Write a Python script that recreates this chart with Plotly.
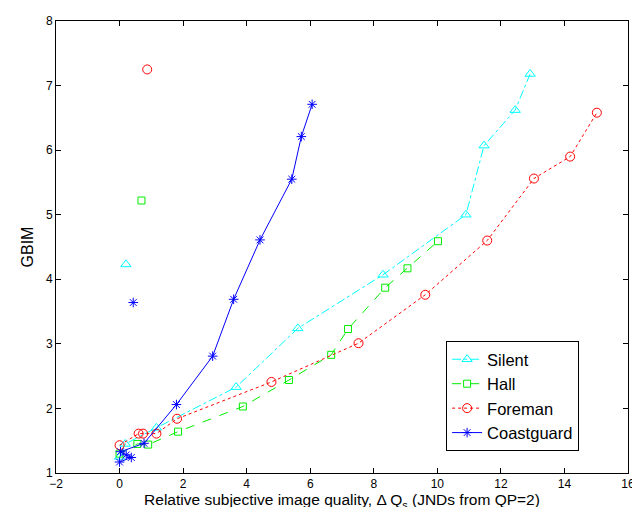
import plotly.graph_objects as go

# Data
silent_x = [0.0, 0.18, 1.16, 3.67, 5.61, 8.29, 10.9, 11.47, 12.45, 12.92]
silent_y = [1.25, 1.45, 1.70, 2.33, 3.24, 4.07, 5.0, 6.07, 6.62, 7.18]
silent_out_x = [0.2]
silent_out_y = [4.23]

hall_x = [0.0, 0.56, 0.9, 1.84, 3.88, 5.33, 6.66, 7.19, 8.36, 9.06, 10.02]
hall_y = [1.3, 1.45, 1.44, 1.64, 2.03, 2.44, 2.83, 3.23, 3.87, 4.17, 4.59]
hall_out_x = [0.69]
hall_out_y = [5.22]

foreman_x = [0.0, 0.6, 0.74, 1.16, 1.81, 4.78, 7.52, 9.62, 11.57, 13.04, 14.18, 15.02]
foreman_y = [1.43, 1.61, 1.61, 1.61, 1.84, 2.41, 3.01, 3.76, 4.6, 5.56, 5.9, 6.58]
foreman_out_x = [0.87]
foreman_out_y = [7.25]

coast_x = [0.0, 0.37, 0.21, 0.03, 0.77, 1.79, 2.93, 3.59, 4.42, 5.42, 5.72, 6.06]
coast_y = [1.17, 1.24, 1.28, 1.33, 1.46, 2.06, 2.81, 3.69, 4.61, 5.55, 6.21, 6.71]
coast_out_x = [0.43]
coast_out_y = [3.64]

x_ticks = [-2, 0, 2, 4, 6, 8, 10, 12, 14, 16]
y_ticks = [1, 2, 3, 4, 5, 6, 7, 8]

series = [
    ("Silent", silent_x, silent_y, silent_out_x, silent_out_y, "#00FFFF", "dashdot", "triangle-up-open", 9),
    ("Hall", hall_x, hall_y, hall_out_x, hall_out_y, "#00EE00", "dash", "square-open", 7),
    ("Foreman", foreman_x, foreman_y, foreman_out_x, foreman_out_y, "#FF0000", "dot", "circle-open", 9),
    ("Coastguard", coast_x, coast_y, coast_out_x, coast_out_y, "#0000FF", "solid", "asterisk-open", 8),
]

fig = go.Figure()
for name, xs, ys, ox, oy, col, dash, sym, sz in series:
    fig.add_trace(go.Scatter(
        x=xs, y=ys, name=name, mode="lines+markers",
        line=dict(color=col, width=1, dash=dash),
        marker=dict(symbol=sym, size=sz, color=col, line=dict(color=col, width=1)),
    ))
for name, xs, ys, ox, oy, col, dash, sym, sz in series:
    fig.add_trace(go.Scatter(
        x=ox, y=oy, mode="markers", showlegend=False,
        marker=dict(symbol=sym, size=sz, color=col, line=dict(color=col, width=1)),
    ))

axis_common = dict(
    showgrid=False, zeroline=False, showline=True, linecolor="black", linewidth=1,
    mirror="ticks", ticks="inside", ticklen=5, tickcolor="black", automargin=False,
    tickfont=dict(family="Liberation Sans, Arial", size=12, color="black"),
)

fig.update_layout(
    width=640, height=507,
    margin=dict(l=48, r=20, t=13, b=42),
    paper_bgcolor="white", plot_bgcolor="white",
    font=dict(family="Liberation Sans, Arial", color="black"),
    xaxis=dict(range=[-2, 16], tickvals=x_ticks, **axis_common,
               title=dict(text="Relative subjective image quality, Δ Q<sub>s</sub> (JNDs from QP=2)",
                          font=dict(size=15.5), standoff=0)),
    yaxis=dict(range=[1, 8], tickvals=y_ticks, **axis_common,
               title=dict(text="GBIM", font=dict(size=16), standoff=8)),
    legend=dict(x=0.682, y=0.292, xanchor="left", yanchor="top",
                bgcolor="white", bordercolor="black", borderwidth=1,
                font=dict(size=16.5, family="Liberation Sans, Arial"),
                tracegroupgap=0),
    showlegend=True,
)

fig.write_html("out.html")
